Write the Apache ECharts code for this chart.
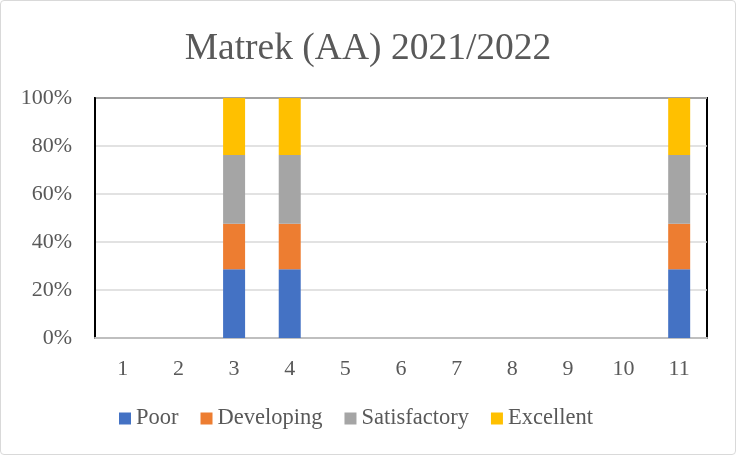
<!DOCTYPE html>
<html><head><meta charset="utf-8">
<script src="https://cdn.jsdelivr.net/npm/echarts@6/dist/echarts.min.js"></script>
<style>
html,body{margin:0;padding:0;background:#fff;}
#wrap{width:736px;height:455px;box-sizing:border-box;border:1px solid #d9d9d9;border-radius:4px;position:relative;overflow:hidden;}
#c{position:absolute;left:-1px;top:-1px;width:736px;height:455px;}
</style></head>
<body><div id="wrap"><div id="c"></div></div>
<script>
const categories = ['1','2','3','4','5','6','7','8','9','10','11'];
const poor =         [null,null,28.6,28.6,null,null,null,null,null,null,28.6];
const developing =   [null,null,19.0,19.0,null,null,null,null,null,null,19.0];
const satisfactory = [null,null,28.6,28.6,null,null,null,null,null,null,28.6];
const excellent =    [null,null,23.8,23.8,null,null,null,null,null,null,23.8];
const yTicks = [0,20,40,60,80,100];

const font = 'Liberation Serif';
const txt = '#595959';
const chart = echarts.init(document.getElementById('c'), null, {renderer:'canvas'});
function s(name, data, color){
  return {name, type:'bar', stack:'a', data, barWidth:22,
    itemStyle:{color}, emphasis:{disabled:true}};
}
chart.setOption({
  animation:false,
  title:{text:'Matrek (AA) 2021/2022', left:'center', top:25,
    textStyle:{fontFamily:font, fontSize:37.5, fontWeight:'normal', color:txt}},
  grid:{left:95, right:29, top:98, bottom:117, show:true, borderColor:'#000', borderWidth:2, backgroundColor:'transparent'},
  legend:{top:402, left:114, itemWidth:12, itemHeight:12, itemGap:22,
    icon:'rect', textStyle:{fontFamily:font, fontSize:22.5, color:txt, padding:[0,0,0,0]},
    data:['Poor','Developing','Satisfactory','Excellent']},
  xAxis:{type:'category', data:categories,
    axisLine:{lineStyle:{color:'#bfbfbf', width:2}},
    axisTick:{show:false},
    axisLabel:{fontFamily:font, fontSize:22, color:txt, margin:20}},
  yAxis:{type:'value', min:yTicks[0], max:yTicks[yTicks.length-1], interval:20,
    axisLine:{show:true, lineStyle:{color:'#000', width:2}}, axisTick:{show:false},
    splitLine:{lineStyle:{color:'#d9d9d9', width:1.5}},
    axisLabel:{fontFamily:font, fontSize:22, color:txt, margin:23, formatter:'{value}%'}},
  series:[
    s('Poor', poor, '#4472c4'),
    s('Developing', developing, '#ed7d31'),
    s('Satisfactory', satisfactory, '#a5a5a5'),
    s('Excellent', excellent, '#ffc000')
  ]
});
</script></body></html>
